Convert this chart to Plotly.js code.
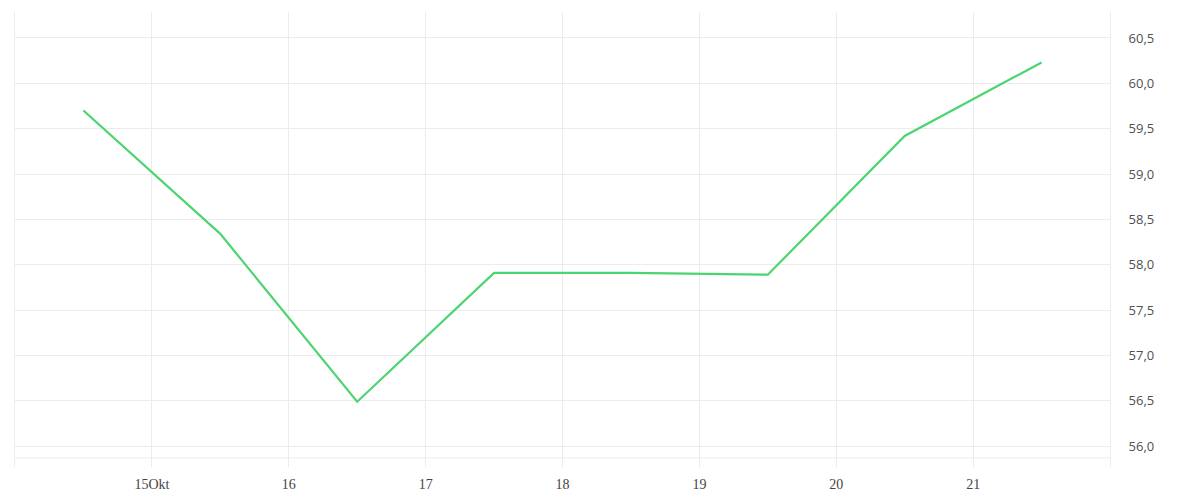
<!DOCTYPE html>
<html>
<head>
<meta charset="utf-8">
<script src="https://cdn.plot.ly/plotly-3.0.1.min.js"></script>
<style>html,body{margin:0;padding:0;background:#fff;}#chart{width:1200px;height:500px;}</style>
</head>
<body>
<div id="chart"></div>
<script>
// Data
const dates = ["2023-10-14 12:00","2023-10-15 12:00","2023-10-16 12:00","2023-10-17 12:00","2023-10-18 12:00","2023-10-19 12:00","2023-10-20 12:00","2023-10-21 12:00"];
const values = [59.70, 58.34, 56.49, 57.91, 57.91, 57.89, 59.42, 60.23];
const tickDates = ["2023-10-15","2023-10-16","2023-10-17","2023-10-18","2023-10-19","2023-10-20","2023-10-21"];
const tickLabels = ["15Okt","16","17","18","19","20","21"];
const xRange = ["2023-10-14","2023-10-22"];
const yRange = [55.77, 60.786];

const grid = "#ececec";
const trace = {
  x: dates, y: values, type: "scatter", mode: "lines",
  line: {color: "#4cd471", width: 2.2},
  hoverinfo: "x+y"
};
const layout = {
  width: 1200, height: 500,
  margin: {l: 15, r: 90, t: 12, b: 33},
  paper_bgcolor: "#fff", plot_bgcolor: "#fff",
  separators: ",.",
  showlegend: false,
  xaxis: {
    type: "date", range: xRange,
    tickvals: tickDates, ticktext: tickLabels,
    showgrid: true, gridcolor: grid, gridwidth: 1,
    zeroline: false, showline: false, ticks: "", ticklabelstandoff: 7,
    tickfont: {family: "Liberation Serif, serif", size: 14, color: "#444"}
  },
  yaxis: {
    side: "right", range: yRange, dtick: 0.5, tick0: 56, tickformat: ".1f",
    showgrid: true, gridcolor: grid, gridwidth: 1,
    zeroline: false, showline: true, mirror: true, linecolor: grid, linewidth: 1,
    ticks: "", ticklabelstandoff: 15,
    tickfont: {family: "Open Sans, sans-serif", size: 13, color: "#505050"}
  },
  shapes: [{
    type: "line", xref: "paper", yref: "paper", x0: 0, x1: 1, y0: 0.02, y1: 0.02,
    line: {color: grid, width: 1}, layer: "below"
  }]
};
Plotly.newPlot("chart", [trace], layout, {displayModeBar: false, staticPlot: true});
</script>
</body>
</html>
